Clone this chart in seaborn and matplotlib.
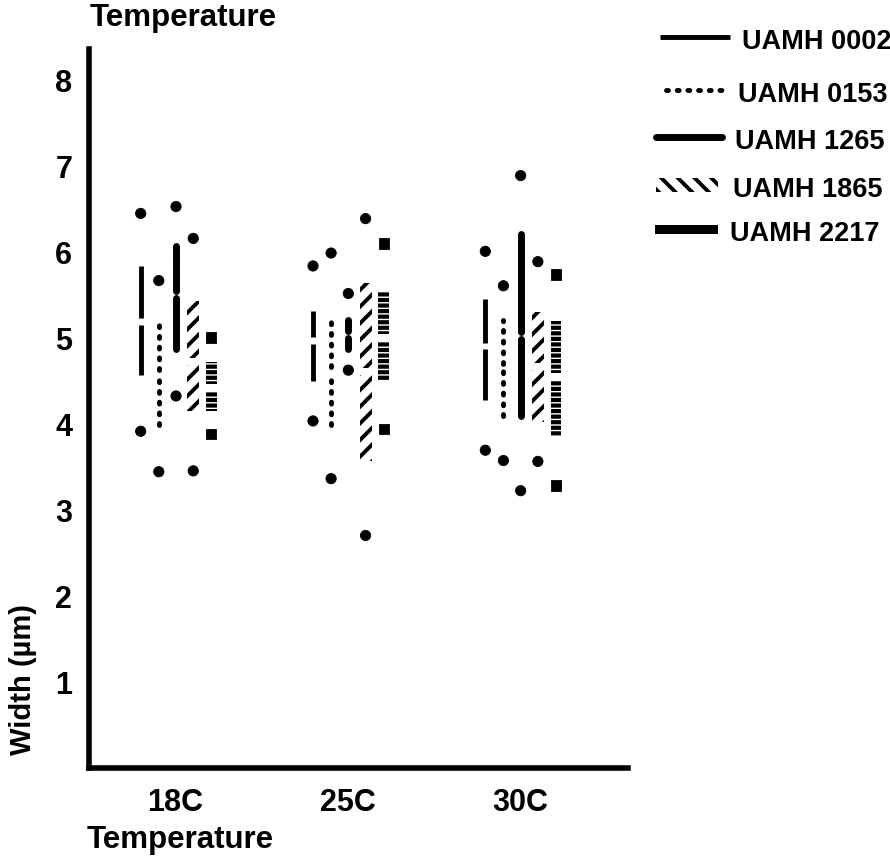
import numpy as np
import pandas as pd
import matplotlib
matplotlib.use('Agg')
import matplotlib.pyplot as plt
import seaborn as sns

# data (width in um)
temps = ['18C', '25C', '30C']
strains = ['UAMH 0002', 'UAMH 0153', 'UAMH 1265', 'UAMH 1865', 'UAMH 2217']

# bar ends (upper / lower), mean (gap in bar), extreme dots (max / min)
bar_hi = {
    'UAMH 0002': [5.83, 5.31, 5.45],
    'UAMH 0153': [5.19, 5.26, 5.20],
    'UAMH 1265': [6.06, 5.20, 6.20],
    'UAMH 1865': [5.42, 5.63, 5.30],
    'UAMH 2217': [4.72, 5.53, 5.19],
}
bar_lo = {
    'UAMH 0002': [4.56, 4.49, 4.27],
    'UAMH 0153': [3.98, 3.98, 4.09],
    'UAMH 1265': [4.87, 4.87, 4.09],
    'UAMH 1865': [4.14, 3.57, 4.02],
    'UAMH 2217': [4.14, 4.49, 3.86],
}
mean_val = {
    'UAMH 0002': [5.19, 4.96, 4.90],
    'UAMH 0153': [4.58, 4.62, 4.65],
    'UAMH 1265': [5.50, 5.03, 5.02],
    'UAMH 1865': [4.72, 4.60, 4.66],
    'UAMH 2217': [4.42, 5.00, 4.55],
}
dot_hi = {
    'UAMH 0002': [6.44, 5.83, 6.00],
    'UAMH 0153': [5.66, 5.98, 5.60],
    'UAMH 1265': [6.52, 5.51, 6.88],
    'UAMH 1865': [6.15, 6.38, 5.88],
    'UAMH 2217': [5.00, 6.09, 5.73],
}
dot_lo = {
    'UAMH 0002': [3.91, 4.03, 3.69],
    'UAMH 0153': [3.44, 3.36, 3.57],
    'UAMH 1265': [4.32, 4.62, 3.22],
    'UAMH 1865': [3.45, 2.70, 3.56],
    'UAMH 2217': [3.88, 3.94, 3.28],
}

# horizontal offset of each strain inside a temperature group
offsets = dict(zip(strains, [-0.2, -0.095, 0.005, 0.105, 0.21]))
markers = dict(zip(strains, ['o', 'o', 'o', 'o', 's']))

sns.set_theme(style='white')
plt.rcParams['font.family'] = ['Liberation Sans', 'DejaVu Sans']
plt.rcParams['font.weight'] = 'bold'
for key in ('text.color', 'axes.labelcolor', 'xtick.color', 'ytick.color'):
    plt.rcParams[key] = 'black'
GAP = 0.04


def draw_piece(ax, strain, pos, a, b, horizontal=False):
    """one solid piece of a strain's bar, from a to b, at pos"""
    if strain == 'UAMH 0002':
        kw = dict(color='black', lw=3.5, solid_capstyle='butt')
    elif strain == 'UAMH 0153':
        kw = dict(color='black', lw=3.5, linestyle=(0, (0.4, 1.8)),
                  dash_capstyle='round')
    elif strain == 'UAMH 1265':
        kw = dict(color='black', lw=5, linestyle=(0, (1.8, 0.35)),
                  dash_capstyle='round')
    if strain in ('UAMH 0002', 'UAMH 0153', 'UAMH 1265'):
        if horizontal:
            ax.plot([a, b], [pos, pos], **kw)
        else:
            ax.plot([pos, pos], [a, b], **kw)
        return
    if strain == 'UAMH 1865':
        w = 0.07 if not horizontal else 14
        hl = 2.8
        kw = dict(facecolor='none', edgecolor='black', linewidth=0,
                  hatch='//' if not horizontal else '\\\\')
    else:
        w = 0.06 if not horizontal else 9
        hl = 1.0
        kw = dict(facecolor='black', edgecolor='white', linewidth=0,
                  hatch='---' if not horizontal else None)
    with plt.rc_context({'hatch.linewidth': hl}):
        if horizontal:
            ax.barh(pos, b - a, left=a, height=w, **kw)
        else:
            ax.bar(pos, b - a, bottom=a, width=w, **kw)


fig = plt.figure(figsize=(8.9, 8.62), dpi=100)
ax = fig.add_axes([0.1, 0.108, 0.606, 0.834])

# bars with a small gap at the mean
for s in strains:
    for i, t in enumerate(temps):
        x = i + offsets[s]
        m = mean_val[s][i]
        draw_piece(ax, s, x, bar_lo[s][i], m - GAP)
        draw_piece(ax, s, x, m + GAP, bar_hi[s][i])

# extreme values as dots
rows = []
for s in strains:
    for i, t in enumerate(temps):
        for v in (dot_hi[s][i], dot_lo[s][i]):
            rows.append({'strain': s, 'x': i + offsets[s], 'width': v})
dots = pd.DataFrame(rows)
sns.scatterplot(data=dots, x='x', y='width', style='strain', markers=markers,
                color='black', s=55, edgecolor='black', legend=False, ax=ax)

ax.set_xlim(-0.5, 2.63)
ax.set_ylim(0, 8.35)
ax.set_xticks(range(len(temps)))
ax.set_xticklabels(temps, fontsize=22, fontweight='bold')
ax.set_yticks(range(1, 9))
ax.set_yticklabels([str(v) for v in range(1, 9)], fontsize=22, fontweight='bold')
ax.tick_params(axis='y', direction='out', length=11, width=3, pad=1, color='black')
ax.tick_params(axis='x', direction='inout', length=16, width=3, pad=6, color='black')
for side in ('top', 'right'):
    ax.spines[side].set_visible(False)
for side in ('left', 'bottom'):
    ax.spines[side].set_linewidth(4)
    ax.spines[side].set_color('black')
ax.set_xlabel('')
ax.set_ylabel('Width (\u00b5m)', fontsize=21, fontweight='bold')
ax.yaxis.set_label_coords(-0.097, 0.124)

fig.text(90 / 890, 1 - 18 / 862, 'Temperature', fontsize=22.5, fontweight='bold',
         ha='left', va='center')
fig.text(87 / 890, 1 - 840 / 862, 'Temperature', fontsize=22.5, fontweight='bold',
         ha='left', va='center')

# legend, drawn in pixel coordinates
lax = fig.add_axes([0, 0, 1, 1], facecolor='none')
lax.set_xlim(0, 890)
lax.set_ylim(862, 0)
lax.axis('off')
leg_y = [38, 91, 138, 186, 230]
leg_x0 = [660, 666, 656, 656, 655]
leg_x1 = [730, 722, 722, 718, 718]
txt_x = [742, 738, 735, 733, 730]
for s, y, a, b, tx in zip(strains, leg_y, leg_x0, leg_x1, txt_x):
    draw_piece(lax, s, y, a, b, horizontal=True)
    lax.text(tx, y + 4, s, fontsize=19.5, fontweight='bold', va='center', ha='left')

fig.savefig('out.png', dpi=100, facecolor='white')
